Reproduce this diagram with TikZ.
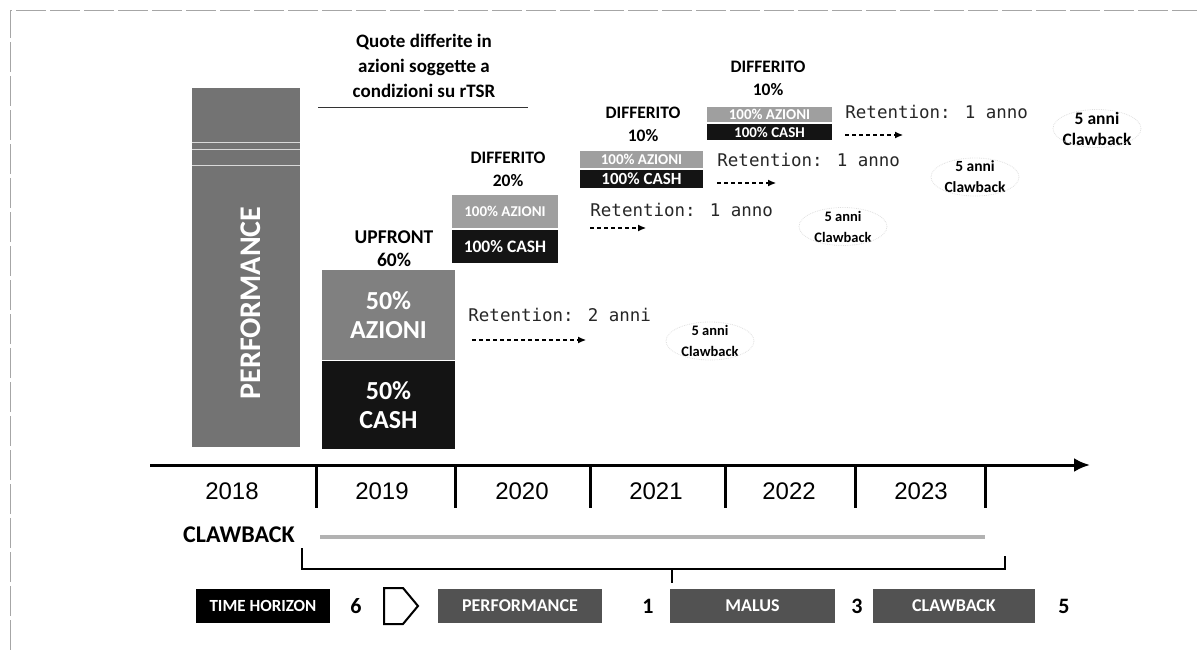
\documentclass[tikz,border=0pt]{standalone}
\usepackage{fontspec}
\setmainfont{Carlito}
\newfontfamily\yearfont{Liberation Sans}
\newfontfamily\retfont{DejaVu Sans Mono}
\usetikzlibrary{arrows.meta, calc}

\tikzset{
    lbl/.style={font=\bfseries\fontsize{17.5}{23}\selectfont, align=center},
    cbk/.style={font=\bfseries\fontsize{14.5}{21}\selectfont, align=center},
    ret/.style={font=\retfont\fontsize{17.5}{20}\selectfont, text=black!85, anchor=west, inner sep=0},
    yr/.style={font=\yearfont\fontsize{24}{26}\selectfont},
    num/.style={font=\bfseries\fontsize{22}{24}\selectfont},
    azbox/.style={fill=gray!75, text=white, inner sep=0, font=\bfseries\fontsize{15}{16}\selectfont},
    cashbox/.style={fill=black!92, text=white, inner sep=0, font=\bfseries\fontsize{15}{16}\selectfont},
    tagbox/.style={fill=black!68, text=white, inner sep=0, minimum height=34, font=\bfseries\fontsize{18}{19}\selectfont},
    retarrow/.style={-{Latex[length=8pt,width=7pt]}, line width=1.1pt, dash pattern=on 4pt off 3pt}
}

\begin{document}
\begin{tikzpicture}[x=1pt, y=-1pt, >=latex, thick]
    \useasboundingbox (0,0) rectangle (1197,650);

    % cornice
    \draw[gray!70, line width=0.8pt, dash pattern=on 30pt off 4pt] (10,650) -- (10,10) -- (1197,10);

    % barra performance
    \node[fill=black!55, minimum width=108, minimum height=359, inner sep=0] (perf) at (246,267.5) {};
    \draw[white!70!gray, line width=1pt] (192,143) -- (300,143) (192,150) -- (300,150) (192,166) -- (300,166);
    \node[rotate=90, text=white, font=\bfseries\fontsize{30}{32}\selectfont] (perftxt) at (251,303) {PERFORMANCE};

    % titolo
    \node[lbl, font=\bfseries\fontsize{19}{25}\selectfont] (quote) at (424,66) {Quote differite in\\azioni soggette a\\condizioni su rTSR};
    \draw[black!80, line width=0.8pt] (318,107) -- (528,107);

    % upfront
    \node[lbl, font=\bfseries\fontsize{19.5}{23}\selectfont] (up) at (394,248.5) {UPFRONT\\60\%};
    \node[azbox, fill=black!50, minimum width=133, minimum height=90, font=\bfseries\fontsize{26}{29}\selectfont, align=center] (az50) at (388.5,315) {50\%\\AZIONI};
    \node[cashbox, minimum width=133, minimum height=88, font=\bfseries\fontsize{26}{29}\selectfont, align=center] (cash50) at (388.5,405) {50\%\\CASH};

    % differito 20%
    \node[lbl] (d20) at (508,169.5) {DIFFERITO\\20\%};
    \node[azbox, minimum width=106, minimum height=33] (az20) at (505,211.5) {100\% AZIONI};
    \node[cashbox, minimum width=106, minimum height=33, font=\bfseries\fontsize{17.5}{18}\selectfont] (cash20) at (505,246.5) {100\% CASH};

    % differito 10% (primo)
    \node[lbl] (d10a) at (643,124) {DIFFERITO\\10\%};
    \node[azbox, minimum width=123, minimum height=17] (az10a) at (641.5,159.5) {100\% AZIONI};
    \node[cashbox, minimum width=123, minimum height=18, font=\bfseries\fontsize{17}{17}\selectfont] (cash10a) at (641.5,179) {100\% CASH};

    % differito 10% (secondo)
    \node[lbl] (d10b) at (768,78.5) {DIFFERITO\\10\%};
    \node[azbox, minimum width=125, minimum height=15] (az10b) at (769.5,114.5) {100\% AZIONI};
    \node[cashbox, minimum width=125, minimum height=16] (cash10b) at (769.5,132) {100\% CASH};

    % retention
    \node[ret] (ret2) at (468,315) {Retention: 2 anni};
    \node[ret] (ret1a) at (590,210) {Retention: 1 anno};
    \node[ret] (ret1b) at (717,160) {Retention: 1 anno};
    \node[ret] (ret1c) at (845,112) {Retention: 1 anno};

    \coordinate (r2s) at (472,340);  \coordinate (r2e) at (586,340);
    \coordinate (r1as) at (590,228); \coordinate (r1ae) at (646,228);
    \coordinate (r1bs) at (717,183); \coordinate (r1be) at (776,183);
    \coordinate (r1cs) at (845,135); \coordinate (r1ce) at (903,135);
    \draw[retarrow] (r2s) -- (r2e);
    \draw[retarrow] (r1as) -- (r1ae);
    \draw[retarrow] (r1bs) -- (r1be);
    \draw[retarrow] (r1cs) -- (r1ce);

    % clawback 5 anni
    \node[cbk] (cb0) at (710,341) {5 anni\\Clawback};
    \node[cbk] (cb1) at (843,226.5) {5 anni\\Clawback};
    \node[cbk, font=\bfseries\fontsize{15.5}{21}\selectfont] (cb2) at (975,177) {5 anni\\Clawback};
    \node[cbk, font=\bfseries\fontsize{17.5}{21}\selectfont] (cb3) at (1097,128.5) {5 anni\\Clawback};
    \foreach \c in {cb0,cb1,cb2,cb3}
        \draw[gray!25, densely dotted] (\c.center) ellipse (44 and 19);

    % asse temporale
    \coordinate (ax0) at (150,465);
    \coordinate (ax1) at (1090,465);
    \draw[-{Latex[length=16pt,width=14pt]}, line width=3pt] (ax0) -- (ax1);
    \foreach \t in {316,455,590,725,855,985}
        \draw[line width=3pt] (\t,465) -- (\t,508);

    \node[yr] (y18) at (232,491) {2018};
    \node[yr] (y19) at (382,491) {2019};
    \node[yr] (y20) at (522,491) {2020};
    \node[yr] (y21) at (656,491) {2021};
    \node[yr] (y22) at (789,491) {2022};
    \node[yr] (y23) at (921,491) {2023};

    % clawback
    \node[lbl, font=\bfseries\fontsize{24}{26}\selectfont] (cbl) at (239,535) {CLAWBACK};
    \draw[gray!60, line width=4pt] (320,537) -- (985,537);
    \coordinate (bl) at (302,548);
    \coordinate (br) at (1005,556);
    \coordinate (bm) at (672,569);
    \draw[line width=1.6pt] (bl) |- (br |- bm) -- (br);
    \draw[line width=1.6pt] (bm) -- ++(0,14);

    % legenda
    \node[tagbox, fill=black, minimum width=134, font=\bfseries\fontsize{17}{18}\selectfont] (th) at (263,606) {TIME HORIZON};
    \node[num] (n6) at (356,606) {6};
    \draw[line width=2pt] (384,588) -- (403,588) -- (418,606) -- (403,624) -- (384,624) -- cycle;
    \node[tagbox, minimum width=164] (pf) at (520,606) {PERFORMANCE};
    \node[num] (n1) at (648,606) {1};
    \node[tagbox, minimum width=165] (ma) at (752.5,606) {MALUS};
    \node[num] (n3) at (857,606) {3};
    \node[tagbox, minimum width=162] (cw) at (954,606) {CLAWBACK};
    \node[num] (n5) at (1064,606) {5};
\end{tikzpicture}
\end{document}
